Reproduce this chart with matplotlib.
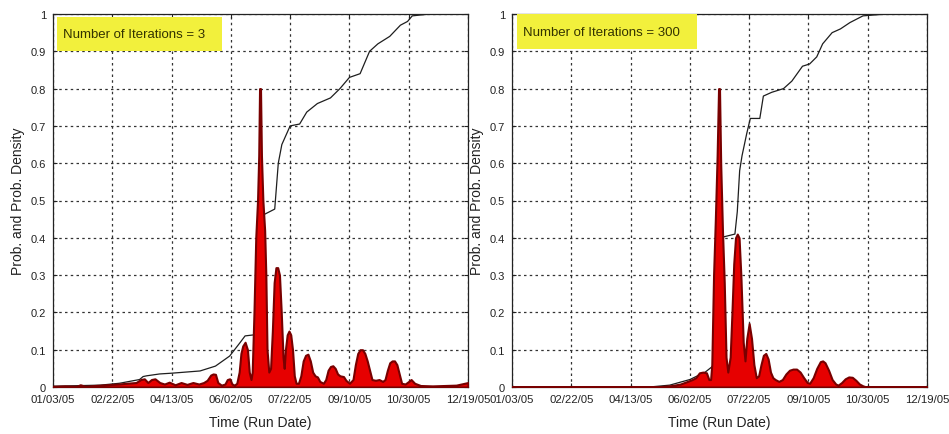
import matplotlib
matplotlib.use("Agg")
import matplotlib.pyplot as plt
from matplotlib.patches import Rectangle

plt.rcParams['font.family'] = ['Liberation Sans', 'DejaVu Sans']

# time axis: days counted from 01/03/05
tick_days = [0, 50, 100, 150, 200, 250, 300, 350]
tick_labels = ['01/03/05', '02/22/05', '04/13/05', '06/02/05',
               '07/22/05', '09/10/05', '10/30/05', '12/19/05']
y_ticks = [0, 0.1, 0.2, 0.3, 0.4, 0.5, 0.6, 0.7, 0.8, 0.9, 1]

# 3 iterations: probability density
dens3_days = [0, 10, 20, 23, 27, 35, 45, 55, 62, 70,
              74, 77, 80, 83, 86, 90, 94, 98, 103, 108,
              113, 118, 123, 127, 130, 133, 135, 137, 139, 142,
              145, 147, 149, 151, 153, 155, 157, 158.5, 160, 162,
              164, 165.5, 167, 168, 169.5, 171, 172.5, 173.5, 174.2, 175,
              175.8, 177, 178.5, 179.5, 180.5, 182, 183.5, 185, 186.5, 188,
              189.5, 191, 192.5, 194, 195, 196, 197.5, 199, 200.5, 202,
              203.5, 205, 207, 209, 211, 213, 215, 217, 219, 221,
              223, 225, 228, 230, 232, 234, 236, 238, 240, 242,
              245, 247, 250, 253, 255, 257, 259, 261, 263, 265,
              267, 269, 272, 275, 278, 280, 282, 284, 286, 288,
              290, 292, 294, 297, 300, 302, 305, 310, 320, 330,
              340, 350]
dens3_vals = [0.002, 0.003, 0.002, 0.006, 0.002, 0.004, 0.006, 0.008, 0.01, 0.012,
              0.02, 0.022, 0.012, 0.02, 0.022, 0.012, 0.008, 0.013, 0.006, 0.012,
              0.007, 0.012, 0.008, 0.012, 0.018, 0.032, 0.035, 0.034, 0.012, 0.005,
              0.008, 0.02, 0.022, 0.008, 0.005, 0.01, 0.04, 0.09, 0.11, 0.12,
              0.1, 0.04, 0.02, 0.04, 0.2, 0.4, 0.5, 0.62, 0.8, 0.8,
              0.62, 0.5, 0.42, 0.3, 0.1, 0.04, 0.05, 0.15, 0.28, 0.32,
              0.32, 0.3, 0.2, 0.08, 0.05, 0.1, 0.14, 0.15, 0.14, 0.1,
              0.03, 0.01, 0.01, 0.03, 0.07, 0.085, 0.088, 0.07, 0.04, 0.03,
              0.027, 0.015, 0.01, 0.02, 0.045, 0.055, 0.057, 0.05, 0.035, 0.03,
              0.028, 0.018, 0.01, 0.02, 0.06, 0.09, 0.1, 0.1, 0.09, 0.07,
              0.045, 0.02, 0.018, 0.02, 0.015, 0.02, 0.045, 0.065, 0.07, 0.07,
              0.06, 0.035, 0.01, 0.008, 0.015, 0.02, 0.01, 0.004, 0.003, 0.004,
              0.005, 0.012]

# 3 iterations: cumulative probability
cdf3_days = [0, 40, 56, 73, 76, 79, 90, 100, 124, 137,
             149, 158, 162, 170, 174.3, 174.6, 179, 187, 190, 193,
             200, 208, 214, 223, 234, 242, 250, 259, 267, 274,
             284, 293, 299, 303, 318, 339]
cdf3_vals = [0.002, 0.005, 0.01, 0.02, 0.028, 0.03, 0.035, 0.037, 0.043, 0.056,
             0.083, 0.12, 0.137, 0.14, 0.14, 0.46, 0.464, 0.477, 0.6, 0.65,
             0.7, 0.705, 0.737, 0.76, 0.775, 0.8, 0.83, 0.84, 0.9, 0.92,
             0.94, 0.97, 0.98, 0.995, 1.0, 1.0]

# 300 iterations: probability density
dens300_days = [0, 100, 125, 135, 142, 148, 152, 155, 158, 161,
                164, 166, 167.5, 168.5, 170, 171.5, 173, 174.2, 175, 176,
                177.5, 179, 180.5, 182, 184, 185.5, 187, 188.5, 190, 191.5,
                193, 195, 196.5, 198, 200, 202, 204, 206, 208, 210,
                212, 214, 216, 218, 220, 222, 225, 228, 231, 234,
                237, 240, 243, 246, 249, 251, 254, 257, 260, 262,
                264, 267, 270, 273, 275, 278, 281, 284, 287, 290,
                293, 296, 299, 320, 350]
dens300_vals = [0.0, 0.0, 0.001, 0.004, 0.008, 0.015, 0.02, 0.025, 0.038, 0.04,
                0.038, 0.02, 0.02, 0.06, 0.3, 0.45, 0.62, 0.8, 0.8, 0.6,
                0.42, 0.28, 0.08, 0.04, 0.08, 0.2, 0.33, 0.4, 0.41, 0.4,
                0.3, 0.12, 0.07, 0.13, 0.17, 0.13, 0.06, 0.025, 0.03, 0.06,
                0.085, 0.09, 0.075, 0.04, 0.025, 0.02, 0.015, 0.02, 0.035, 0.045,
                0.048, 0.048, 0.04, 0.025, 0.012, 0.01, 0.025, 0.05, 0.068, 0.07,
                0.065, 0.045, 0.02, 0.008, 0.005, 0.012, 0.022, 0.027, 0.026, 0.018,
                0.008, 0.003, 0.0, 0.0, 0.0]

# 300 iterations: cumulative probability
cdf300_days = [0, 116, 133, 150, 163, 171, 175.2, 175.4, 188, 190,
               192, 194, 198, 201, 209, 212, 219, 229, 236, 245,
               251, 257, 262, 270, 277, 285, 296, 316]
cdf300_vals = [0.0, 0.0, 0.005, 0.02, 0.04, 0.06, 0.07, 0.4, 0.41, 0.47,
               0.58, 0.62, 0.68, 0.72, 0.72, 0.78, 0.79, 0.8, 0.82, 0.86,
               0.866, 0.885, 0.92, 0.95, 0.96, 0.977, 0.995, 1.0]

panels = [
    (dens3_days, dens3_vals, cdf3_days, cdf3_vals, 'Number of Iterations = 3'),
    (dens300_days, dens300_vals, cdf300_days, cdf300_vals, 'Number of Iterations = 300'),
]

fig = plt.figure(figsize=(9.49, 4.35), dpi=100)
lefts = [53 / 949, 512 / 949]
# yellow label boxes in axes fractions: x, y, width, height
boxes = [(0.010, 0.901, 0.398, 0.091), (0.012, 0.906, 0.434, 0.094)]

for left, box, (dd, dv, cd, cv, label) in zip(lefts, boxes, panels):
    ax = fig.add_axes([left, 47 / 435, 415 / 949, 373 / 435])
    ax.plot(cd, cv, color='#1e1e1e', lw=0.9, zorder=2)
    ax.fill_between(dd, 0, dv, facecolor='#e60000', edgecolor='#780000',
                    lw=1.5, zorder=3)
    ax.set_xlim(0, 350)
    ax.set_ylim(0, 1)
    ax.set_xticks(tick_days)
    ax.set_xticklabels(tick_labels, fontsize=8.2)
    ax.set_yticks(y_ticks)
    ax.set_yticklabels(['%g' % t for t in y_ticks], fontsize=8)
    ax.grid(True, color='#333333', linestyle=(0, (2, 2.6)), lw=0.9, zorder=1)
    ax.set_axisbelow(True)
    ax.tick_params(direction='in', length=3, top=True, right=True,
                   colors='#222222', pad=5)
    for s in ax.spines.values():
        s.set_color('#222222')
        s.set_linewidth(0.9)
    ax.set_xlabel('Time (Run Date)', fontsize=10, color='#222222', labelpad=8)
    ax.set_ylabel('Prob. and Prob. Density', fontsize=10, color='#222222',
                  labelpad=4)
    ax.add_patch(Rectangle(box[:2], box[2], box[3], transform=ax.transAxes,
                           facecolor='#f2f03c', edgecolor='none', zorder=5))
    ax.text(box[0] + 0.014, box[1] + box[3] / 2, label, transform=ax.transAxes,
            fontsize=9.5, va='center', ha='left', color='#333300', zorder=6)

fig.savefig('out.png', dpi=100)
